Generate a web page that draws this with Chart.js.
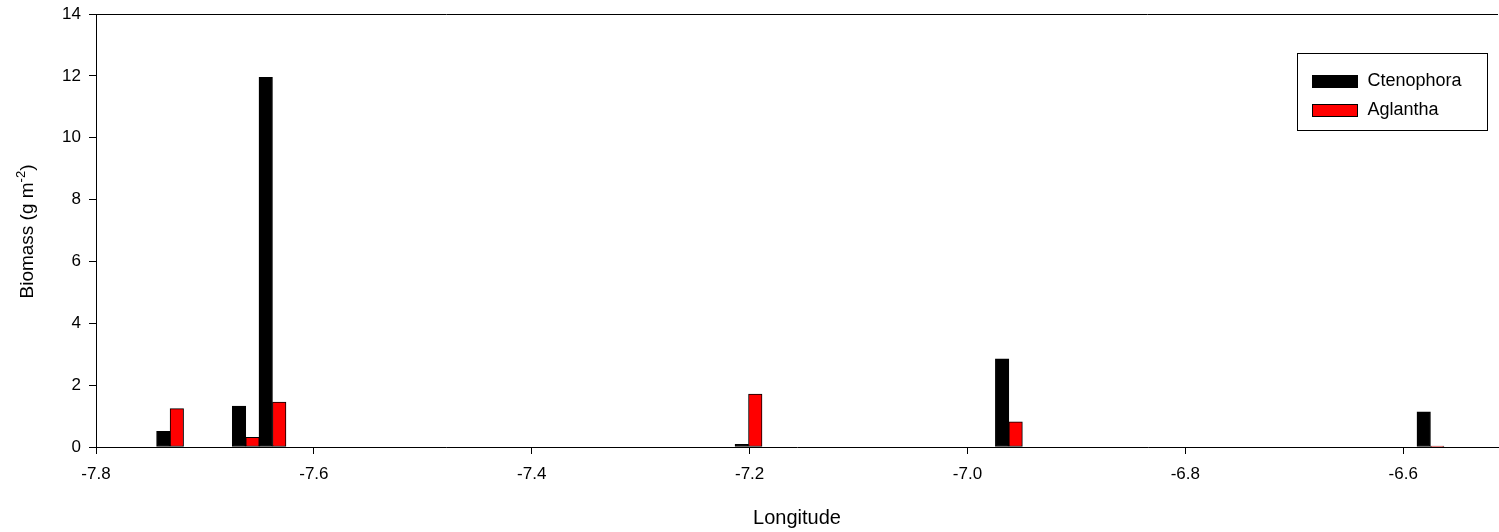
<!DOCTYPE html>
<html>
<head>
<meta charset="utf-8">
<script src="https://cdn.jsdelivr.net/npm/chart.js@4/dist/chart.umd.min.js"></script>
<style>
  html, body { margin: 0; padding: 0; background: #fff; }
  #wrap { width: 1499px; height: 532px; }
</style>
</head>
<body>
<div id="wrap"><canvas id="chart"></canvas></div>
<script>
// stations along the transect (longitude) and biomass per group, g m-2
const longitude  = [-7.732, -7.6625, -7.638, -7.201, -6.962, -6.575];
const ctenophora = [0.51, 1.32, 11.95, 0.09, 2.85, 1.14];
const aglantha   = [1.24, 0.31, 1.45, 1.71, 0.81, 0.03];

const xTicks = [-7.8, -7.6, -7.4, -7.2, -7.0, -6.8, -6.6];
const yTicks = [0, 2, 4, 6, 8, 10, 12, 14];
const xRange = [-7.8, -6.513];

const FONT = "'Liberation Sans', Arial, sans-serif";

const pts = vals => vals.map((v, i) => ({ x: longitude[i], y: v }));

// top frame line + y title with superscript + boxed legend
const extras = {
  id: "extras",
  afterDraw(c) {
    const { ctx, chartArea: a } = c;
    ctx.save();
    ctx.strokeStyle = "#000";
    ctx.lineWidth = 1;
    ctx.beginPath();
    ctx.moveTo(a.left, a.top + 0.5);
    ctx.lineTo(a.right, a.top + 0.5);
    ctx.stroke();

    // y axis title
    ctx.translate(28, (a.top + a.bottom) / 2 + 1);
    ctx.rotate(-Math.PI / 2);
    ctx.fillStyle = "#000";
    ctx.textBaseline = "middle";
    const big = `19px ${FONT}`, small = `13px ${FONT}`;
    ctx.font = big;
    const p1 = "Biomass (g m", p3 = ")";
    const w1 = ctx.measureText(p1).width, w3 = ctx.measureText(p3).width;
    ctx.font = small;
    const w2 = ctx.measureText("-2").width;
    let x = -(w1 + w2 + w3) / 2;
    ctx.font = big;
    ctx.fillText(p1, x, 0); x += w1;
    ctx.font = small;
    ctx.fillText("-2", x, -7); x += w2;
    ctx.font = big;
    ctx.fillText(p3, x, 0);
    ctx.restore();

    // legend
    ctx.save();
    const bx = a.right - 200.5, by = a.top + 39.5, bw = 190, bh = 77;
    ctx.strokeStyle = "#000";
    ctx.lineWidth = 1;
    ctx.strokeRect(bx, by, bw, bh);
    ctx.font = `18px ${FONT}`;
    ctx.textBaseline = "middle";
    c.data.datasets.forEach((ds, i) => {
      const cy = by + 28 + i * 29;
      ctx.fillStyle = ds.backgroundColor;
      ctx.fillRect(bx + 15, cy - 6, 45, 12);
      ctx.strokeRect(bx + 15, cy - 6, 45, 12);
      ctx.fillStyle = "#000";
      ctx.fillText(ds.label, bx + 70, cy);
    });
    ctx.restore();
  }
};

new Chart(document.getElementById("chart"), {
  type: "bar",
  data: {
    datasets: [
      { label: "Ctenophora", data: pts(ctenophora), backgroundColor: "#000000",
        borderColor: "#000", borderWidth: 1, borderSkipped: false, barThickness: 13.5 },
      { label: "Aglantha", data: pts(aglantha), backgroundColor: "#ff0000",
        borderColor: "#000", borderWidth: 1, borderSkipped: false, barThickness: 13.5 }
    ]
  },
  options: {
    responsive: true,
    maintainAspectRatio: false,
    animation: false,
    layout: { padding: { top: 14, right: 1, left: 0, bottom: 0 } },
    plugins: { legend: { display: false }, tooltip: { enabled: false } },
    scales: {
      x: {
        type: "linear",
        min: xRange[0], max: xRange[1],
        offset: false,
        afterBuildTicks: s => { s.ticks = xTicks.map(v => ({ value: v })); },
        afterFit: s => { s.height = 85; s.paddingLeft = 0; s.paddingRight = 0; },
        grid: { display: true, drawOnChartArea: false, offset: false, tickLength: 7, color: "#000" },
        border: { display: true, color: "#000", width: 1 },
        ticks: { color: "#000", font: { family: FONT, size: 17 }, padding: 10,
                 maxRotation: 0, autoSkip: false, callback: v => v.toFixed(1) },
        title: { display: true, text: "Longitude", color: "#000",
                 font: { family: FONT, size: 20 }, padding: { top: 0, bottom: 2 } }
      },
      y: {
        min: 0, max: 14,
        afterBuildTicks: s => { s.ticks = yTicks.map(v => ({ value: v })); },
        afterFit: s => { s.width = 96; s.paddingTop = 0; s.paddingBottom = 0; },
        grid: { display: true, drawOnChartArea: false, tickLength: 7, color: "#000" },
        border: { display: true, color: "#000", width: 1 },
        ticks: { color: "#000", font: { family: FONT, size: 17 }, padding: 8 }
      }
    }
  },
  plugins: [extras]
});
</script>
</body>
</html>
